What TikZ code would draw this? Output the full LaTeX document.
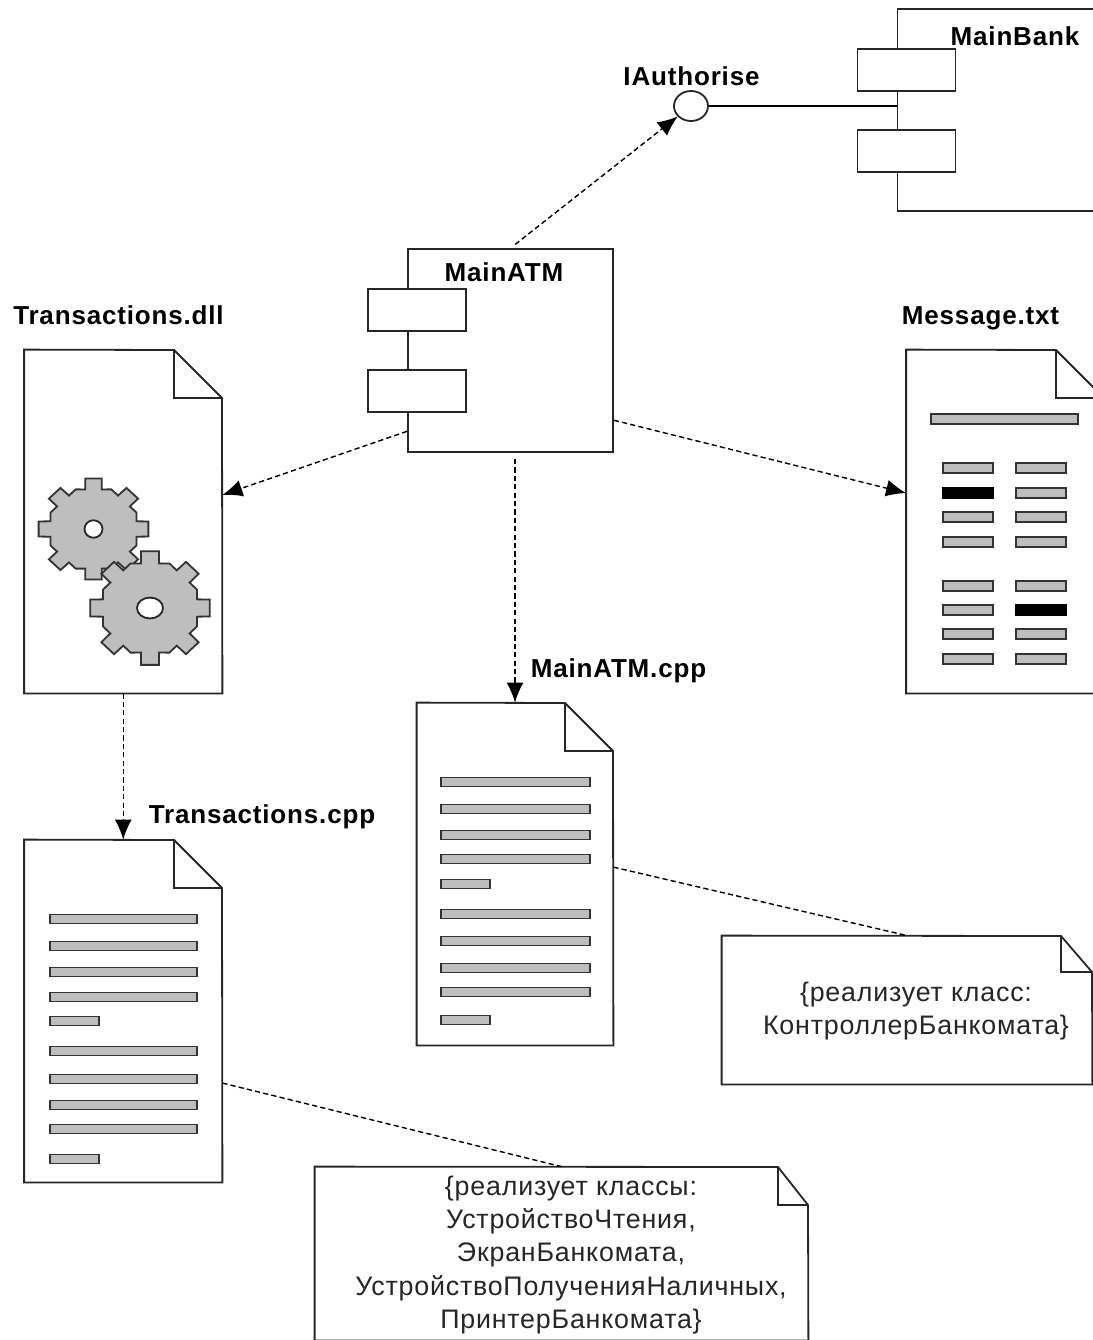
\documentclass[tikz,border=0pt]{standalone}
\usepackage{fontspec}
\setmainfont{Liberation Sans}
\newfontfamily\titlefont[LetterSpace=3.2]{Liberation Sans}
\newfontfamily\notefont[LetterSpace=3]{Liberation Sans}
\usetikzlibrary{positioning}
\usetikzlibrary{fit}
\usetikzlibrary{arrows.meta}
\usetikzlibrary{shapes.geometric}
\definecolor{bargray}{HTML}{BEBEBE}
\tikzset{
    shapeline/.style={draw=black!85,line width=0.9pt,fill=white},
    bar/.style={draw=black!80,line width=0.9pt,fill=bargray},
    blackbar/.style={draw=black,line width=0.9pt,fill=black},
    dep/.style={color=black,line width=0.7pt,dash pattern=on 2.6pt off 1.6pt,->},
    title/.style={font=\fontsize{13}{15}\titlefont\bfseries,inner sep=0pt,text height=9.4pt,text depth=0pt},
    notetext/.style={font=\fontsize{13.4}{16.7}\notefont,text=black!85,align=center,inner sep=0pt},
}
% page shape with turned corner, named by a fit node
\newcommand{\docnode}[7]{
    \node[fit={(#2,#3) (#4,#5)},inner sep=0pt] (#1) {};
    \draw[shapeline] (#1.north west) -- ({#4-#6},#3) -- (#4,{#3+#7}) -- (#1.south east) -- (#1.south west) -- cycle;
    \draw[shapeline,fill=none,line width=0.7pt] ({#4-#6},#3) -- ({#4-#6},{#3+#7}) -- (#4,{#3+#7});
}
% component box with its two tabs
\newcommand{\compnode}[5]{
    \node[fit={(#2,#3) (#4,#5)},inner sep=0pt,shapeline] (#1) {};
    \node[fit={({#2-40},{#3+40}) ({#2+58},{#3+82})},inner sep=0pt,shapeline] (#1tabA) {};
    \node[fit={({#2-40},{#3+121}) ({#2+58},{#3+163})},inner sep=0pt,shapeline] (#1tabB) {};
}
% one gear
\newcommand{\gear}[7]{
    \begin{scope}[shift={(#1,#2)},xscale=#3,yscale=#4]
        \draw[bar] (-22.5:{0.84*#5}) \foreach \a in {0,45,...,315} {
            -- (\a-11:{0.79*#5}) -- (\a-8.5:#5) -- (\a+8.5:#5) -- (\a+11:{0.79*#5}) -- (\a+22.5:{0.84*#5})
        } -- cycle;
        \draw[shapeline] (0,0) ellipse (#6 and #7);
    \end{scope}
}
\begin{document}
\begin{tikzpicture}[x=0.5pt,y=-0.5pt,>={Latex[length=10pt,width=8.5pt]}]
            \useasboundingbox (0,0) rectangle (1093,1340);
            %
            \compnode{mainatm}{408}{249}{613}{452}
            \compnode{mainbank}{897.5}{9}{1120}{211}
            \node[title] (mainatmlabel) at (504,272) {MainATM};
            \node[title] (mainbanklabel) at (1015,36) {MainBank};
            \node[ellipse,shapeline,minimum width=17pt,minimum height=15pt,inner sep=0pt] (iauth) at (691,106) {};
            \node[title] (iauthlabel) at (691.5,76) {IAuthorise};
            %
            \docnode{dll}{24.5}{350}{222}{693}{48}{48}
            \docnode{msg}{906.5}{350}{1104}{693}{48}{48}
            \docnode{atmcpp}{417}{703}{613}{1045}{48}{48}
            \docnode{trcpp}{24.5}{840}{222}{1182}{48}{48}
            \docnode{noteatm}{722}{936}{1092}{1084}{31}{36}
            \docnode{notetr}{315}{1167}{808}{1340}{30}{38}
            %
            \node[title] (dlllabel) at (118.5,315) {Transactions.dll};
            \node[title] (msglabel) at (980.5,315) {Message.txt};
            \node[title] (atmcpplabel) at (618.5,668) {MainATM.cpp};
            \node[title] (trcpplabel) at (262,814) {Transactions.cpp};
            %
            \node[notetext] (noteatmtext) at (916,1011) {\{реализует класс:\\КонтроллерБанкомата\}};
            \node[notetext] (notetrtext) at (571,1255) {\{реализует классы:\\УстройствоЧтения,\\ЭкранБанкомата,\\УстройствоПолученияНаличных,\\ПринтерБанкомата\}};
            %
            \gear{93.5}{529}{1.0}{0.92}{55.5}{9}{9.5}
            \gear{150}{608}{1.0}{0.95}{60.5}{13}{11}
            %
            \foreach \y/\w in {782/590,809/590,835/590,859/590,884/490,914/590,941/590,968/590,992/590,1020/490} {
                \draw[bar] (441,\y-4.5) rectangle (\w,\y+4.5);
            }
            \foreach \y/\w in {919/197,946/197,972/197,997/197,1021/99,1051/197,1079/197,1105/197,1129/197,1159/99} {
                \draw[bar] (50,\y-4.5) rectangle (\w,\y+4.5);
            }
            \draw[bar] (931,414) rectangle (1078,424);
            \foreach \y in {468,493,517,542,586,610,634,659} {
                \draw[bar] (943,\y-5) rectangle (993,\y+5);
                \draw[bar] (1016,\y-5) rectangle (1066,\y+5);
            }
            \draw[blackbar] (943,488) rectangle (993,498);
            \draw[blackbar] (1016,605) rectangle (1066,615);
            %
            \draw [dep,shorten <=3pt] (mainatm.north) to (iauth);
            \draw [color=black,line width=0.8pt] (iauth.east) to (iauth.east -| mainbank.west);
            \draw [dep] (mainatm.218) to (dll.15);
            \draw [dep] (mainatm.-34) to (msg.164.5);
            \draw [dep,shorten <=3pt] (atmcpp.north |- mainatm.south) to (atmcpp.north);
            \draw [dep] (dll.south) to (trcpp.north);
            \draw [dep,-] (atmcpp.4) to (noteatm.north);
            \draw [dep,-] (trcpp.-36.4) to (notetr.north);
            %
        \end{tikzpicture}
\end{document}
